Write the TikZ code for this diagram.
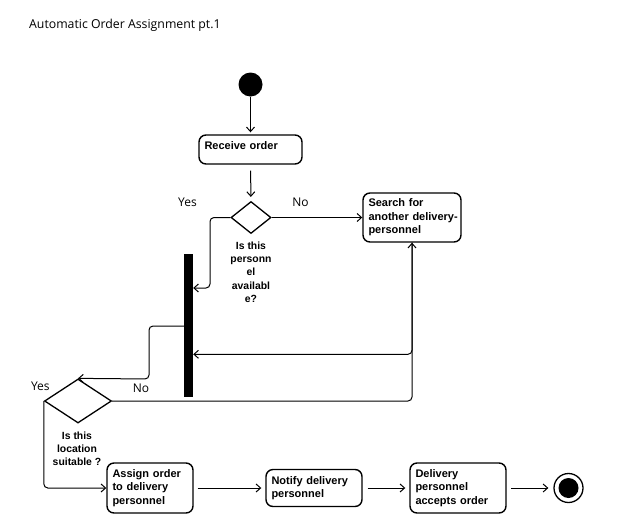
\documentclass[tikz,border=0pt]{standalone}
\usepackage{fontspec}
\setmainfont{Liberation Sans}
\newfontfamily\opensans{Open Sans}
\usetikzlibrary{shapes.geometric,arrows.meta}
\begin{document}
\begin{tikzpicture}[x=1pt,y=-1pt,
  box/.style={draw, line width=1.4pt, rounded corners=7pt, inner xsep=5.5pt, inner ysep=0pt, align=left, font=\fontsize{11}{13.6}\selectfont\bfseries},
  dec/.style={draw, diamond, line width=1.3pt, inner sep=0pt},
  conn/.style={line width=1pt, -{Straight Barb[length=4.5pt,width=8pt]}},
  lbl/.style={font=\fontsize{12}{14}\selectfont\opensans, inner sep=0pt},
  dlbl/.style={font=\fontsize{10.4}{13.3}\selectfont\bfseries, align=center, inner sep=0pt, anchor=north}]
\useasboundingbox (0,0) rectangle (626,520);
\node[anchor=base west, inner sep=0pt, font=\fontsize{12.3}{14}\selectfont\opensans] (title) at (29,28) {Automatic Order Assignment pt.1};
% nodes
\node[circle, fill=black, minimum size=24pt, inner sep=0pt] (start) at (250.5,84.5) {};
\node[box, text width=92pt, minimum height=29pt] (receive) at (250.5,149.5) {\raisebox{4pt}[\height][\depth]{Receive order}};
\node[dec, minimum width=40pt, minimum height=32pt] (d1) at (251,217.5) {};
\node[box, text width=87pt, minimum height=49pt] (search) at (412,217.5) {Search for\\\mbox{another delivery-}\\personnel};
\node[fill=black, minimum width=9pt, minimum height=143pt, inner sep=0pt] (bar) at (188.5,325.5) {};
\node[dec, minimum width=67pt, minimum height=44pt] (d2) at (78,401) {};
\node[box, text width=75pt, minimum height=50pt] (assign) at (150,488) {Assign order\\to delivery\\personnel};
\node[box, text width=85pt, minimum height=37pt] (notify) at (314,488) {Notify delivery\\personnel};
\node[box, text width=85pt, minimum height=50pt] (accept) at (458,488) {Delivery\\personnel\\accepts order};
\node[circle, draw, line width=1.3pt, minimum size=29pt, inner sep=0pt] (end) at (568.5,488) {};
\node[circle, fill=black, minimum size=20pt, inner sep=0pt] (endin) at (end.center) {};
% labels
\node[lbl] (yes1) at (187.5,202) {Yes};
\node[lbl] (no1) at (300.5,202) {No};
\node[lbl] (yes2) at (40.3,386) {Yes};
\node[lbl] (no2) at (141,388.5) {No};
\node[dlbl] (q1) at (251,241.5) {Is this\\personn\\el\\availabl\\e?};
\node[dlbl] (q2) at (77,431.5) {Is this\\location\\suitable ?};
% helper coordinates
\coordinate (yA) at (0,288);
\coordinate (yB) at (0,354.3);
\coordinate (yC) at (0,326);
% connectors
\draw[conn, shorten >=2pt] (start) -- (receive);
\draw[conn, shorten <=6pt, shorten >=4pt] (receive) -- (d1);
\draw[conn] (d1.east) -- (search.west);
\draw[conn, rounded corners=4pt] (d1.west) -| (210,288) -- (bar.east |- yA);
\draw[conn, rounded corners=4pt] (search.south) |- (bar.east |- yB);
\draw[conn, rounded corners=4pt] (d2.east) -| (search.south);
\draw[conn, rounded corners=4pt] (bar.west |- yC) -| (149,379) -- (d2.north);
\draw[conn, rounded corners=4pt] (d2.west) |- (assign.west);
\draw[conn, shorten <=4pt, shorten >=4pt] (assign) -- (notify);
\draw[conn, shorten <=5pt, shorten >=4pt] (notify) -- (accept);
\draw[conn, shorten <=4.5pt, shorten >=5pt] (accept) -- (end);
\end{tikzpicture}
\end{document}
